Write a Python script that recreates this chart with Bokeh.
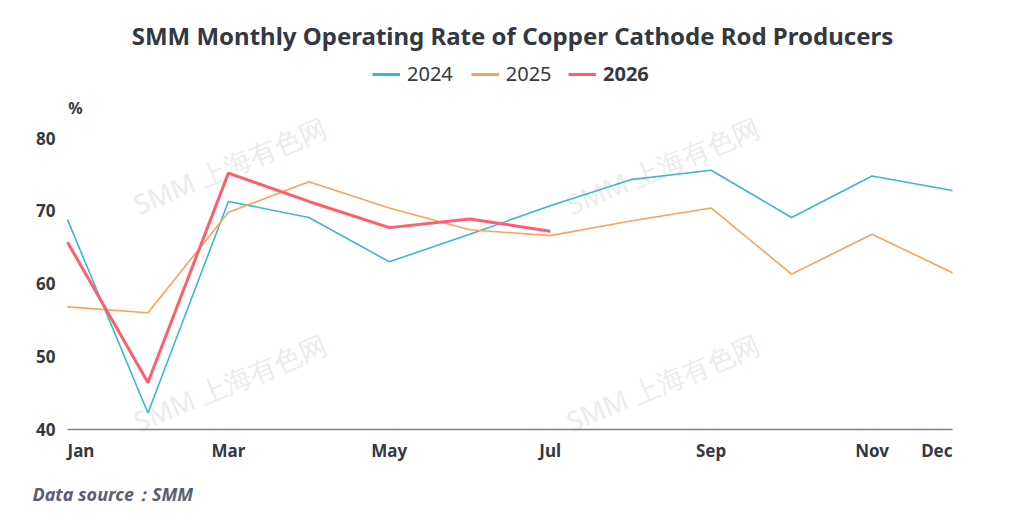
from bokeh.plotting import figure
from bokeh.models import (ColumnDataSource, FixedTicker, Label, LabelSet,
                          Legend, LegendItem, Range1d)
from bokeh.core.properties import value
from bokeh.embed import file_html
from bokeh.resources import INLINE

# data (%)
months = ["Jan", "Feb", "Mar", "Apr", "May", "Jun",
          "Jul", "Aug", "Sep", "Oct", "Nov", "Dec"]
rate_2024 = [68.8, 42.2, 71.3, 69.1, 63.0, 66.8, 70.7, 74.3, 75.6, 69.1, 74.8, 72.8]
rate_2025 = [56.8, 56.0, 69.8, 74.0, 70.4, 67.4, 66.6, 68.6, 70.4, 61.3, 66.8, 61.5]
rate_2026 = [65.7, 46.4, 75.2, 71.3, 67.7, 68.9, 67.2]
x_tick_months = ["Jan", "Mar", "May", "Jul", "Sep", "Nov", "Dec"]
y_ticks = [40, 50, 60, 70, 80]

FONT = "Noto Sans"
DARK = "#333842"
C2024 = "#3db8cb"
C2025 = "#f7a35c"
C2026 = "#ff5e6e"

# canvas layout (px); the frame covers the whole canvas so that the
# title, legend and notes are not clipped
W, H = 1008, 506
LEFT, RIGHT = 67, 952       # where Jan and Dec sit
TOP, BOTTOM = 137.7, 428.5  # where 80 and 40 sit
n = len(months) - 1
sx = (RIGHT - LEFT) / n
sy = (BOTTOM - TOP) / (y_ticks[-1] - y_ticks[0])
x_start = -LEFT / sx
x_end = n + (W - RIGHT) / sx
y_end = y_ticks[-1] + TOP / sy
y_start = y_ticks[0] - (H - BOTTOM) / sy


def dx(px):
    return x_start + px / sx


def dy(py):
    return y_end - py / sy


idx = list(range(len(months)))

p = figure(width=W, height=H, output_backend="svg", toolbar_location=None,
           title=None, x_range=Range1d(x_start, x_end),
           y_range=Range1d(y_start, y_end),
           min_border_left=0, min_border_right=0, min_border_top=0,
           min_border_bottom=0)
p.outline_line_color = None
p.xgrid.visible = False
p.ygrid.visible = False

# y axis: labels only, pinned at Jan
yax = p.yaxis[0]
yax.fixed_location = 0
yax.ticker = FixedTicker(ticks=y_ticks)
yax.axis_line_color = None
yax.major_tick_line_color = None
yax.major_tick_out = 0
yax.major_tick_in = 0
yax.minor_tick_line_color = None
yax.major_label_standoff = 12
yax.major_label_text_font = FONT
yax.major_label_text_font_style = "bold"
yax.major_label_text_font_size = "17px"
yax.major_label_text_color = DARK

# x axis: just the line at 40, labels drawn below with their own alignment
xax = p.xaxis[0]
xax.fixed_location = y_ticks[0]
xax.bounds = (0, n)
xax.ticker = FixedTicker(ticks=[])
xax.axis_line_color = "#7a7f8c"
xax.axis_line_width = 1.5
xax.major_tick_line_color = None
xax.minor_tick_line_color = None

# watermarks
for wx, wy in [(229, 165), (229, 382), (662, 165), (662, 382)]:
    p.add_layout(Label(x=dx(wx), y=dy(wy), text="SMM 上海有色网", angle=0.4,
                       text_align="center", text_baseline="middle",
                       text_font=FONT, text_font_size="27px",
                       text_color="#ececec", level="underlay"))

r24 = p.line(idx, rate_2024, line_color=C2024, line_width=1.6)
r25 = p.line(idx, rate_2025, line_color=C2025, line_width=1.6)
r26 = p.line(idx[:len(rate_2026)], rate_2026, line_color=C2026, line_width=3)

# legend swatches are drawn thicker than the series lines
nan = float("nan")
k24 = p.line([nan], [nan], line_color=C2024, line_width=3)
k25 = p.line([nan], [nan], line_color=C2025, line_width=3)

# month labels under the axis
tick_x = [months.index(m) for m in x_tick_months]
aligns = ["left" if t == 0 else "right" if t == n else "center" for t in tick_x]
tick_src = ColumnDataSource(dict(x=tick_x, y=[y_ticks[0]] * len(tick_x),
                                 text=x_tick_months, align=aligns))
p.add_layout(LabelSet(x="x", y="y", text="text", source=tick_src,
                      text_align="align", text_baseline="middle", y_offset=-21,
                      text_font=value(FONT), text_font_style="bold",
                      text_font_size="17px", text_color=DARK))

# unit label
p.add_layout(Label(x=dx(75), y=dy(107), text="%", text_align="center",
                   text_baseline="middle", text_font=FONT, text_font_style="bold",
                   text_font_size="16px", text_color=DARK))

# title
p.add_layout(Label(x=dx(512), y=dy(35),
                   text="SMM Monthly Operating Rate of Copper Cathode Rod Producers",
                   text_align="center", text_baseline="middle", text_font=FONT,
                   text_font_style="bold", text_font_size="24px", text_color=DARK))

# source note
p.add_layout(Label(x=dx(32), y=dy(493), text="Data source：SMM",
                   text_align="left", text_baseline="middle", text_font=FONT,
                   text_font_style="bold italic", text_font_size="18px",
                   text_color="#5b6070"))


# legend, 2026 in bold
def make_legend(items, left_px, style):
    lg = Legend(items=items, location=(left_px, H - 87), orientation="horizontal",
                border_line_color=None, background_fill_alpha=0,
                padding=0, margin=0, spacing=18, label_standoff=7,
                glyph_width=28, glyph_height=22, label_height=22,
                label_text_font=FONT, label_text_font_size="20px",
                label_text_font_style=style, label_text_color=DARK)
    p.add_layout(lg)


make_legend([LegendItem(label="2024", renderers=[k24]),
             LegendItem(label="2025", renderers=[k25])], 372, "normal")
make_legend([LegendItem(label="2026", renderers=[r26])], 568, "bold")

open("out.html", "w").write(file_html(p, INLINE))
